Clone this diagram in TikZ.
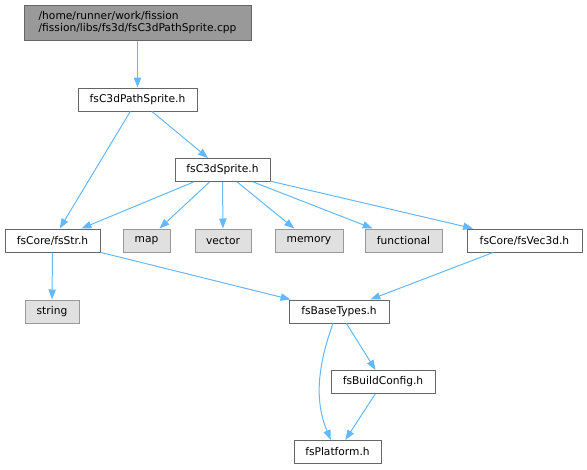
\documentclass[tikz,border=0pt]{standalone}
\usepackage{fontspec}
\setmainfont{DejaVu Sans}
\usetikzlibrary{arrows.meta, positioning}
\definecolor{edgeblue}{HTML}{63B8FF}
\definecolor{boxline}{HTML}{666666}
\definecolor{extline}{HTML}{999999}
\definecolor{extfill}{HTML}{E0E0E0}
\tikzset{
  filebox/.style={draw=boxline, fill=white, line width=0.75pt, minimum height=17.25pt, inner sep=1.5pt, font=\fontsize{8pt}{9.2pt}\selectfont},
  extbox/.style={filebox, draw=extline, fill=extfill},
  rootbox/.style={filebox, fill=extline, align=left},
  incl/.style={draw=edgeblue, line width=0.75pt, -{Triangle[length=7.5pt, width=5.5pt]}}
}
\begin{document}
\begin{tikzpicture}[x=0.75pt,y=0.75pt,yscale=-1,xscale=1]
			\useasboundingbox (0,0) rectangle (587,469);
			
			% Nodes
			\node [rootbox, minimum width=227*0.75pt, minimum height=35*0.75pt] (root) at (137.5,22.5) {/home/runner/work/fission\\/fission/libs/fs3d/fsC3dPathSprite.cpp};
			\node [filebox, minimum width=119*0.75pt] (pathsprite) at (137.5,99.5) {fsC3dPathSprite.h};
			\node [filebox, minimum width=95*0.75pt] (sprite) at (222.5,170) {fsC3dSprite.h};
			\node [filebox, minimum width=95*0.75pt] (fsstr) at (52.5,240.5) {fsCore/fsStr.h};
			\node [extbox, minimum width=47*0.75pt] (map) at (146.5,240.5) {map};
			\node [extbox, minimum width=56*0.75pt] (vector) at (223,240.5) {vector};
			\node [extbox, minimum width=68*0.75pt] (memory) at (309,240.5) {memory};
			\node [extbox, minimum width=77*0.75pt] (functional) at (403.5,240.5) {functional};
			\node [filebox, minimum width=115*0.75pt] (vec3d) at (524.5,240.5) {fsCore/fsVec3d.h};
			\node [extbox, minimum width=54*0.75pt] (string) at (52,311.5) {string};
			\node [filebox, minimum width=100*0.75pt] (basetypes) at (339,311.5) {fsBaseTypes.h};
			\node [filebox, minimum width=104*0.75pt] (buildcfg) at (383,382) {fsBuildConfig.h};
			\node [filebox, minimum width=87*0.75pt] (platform) at (337.5,452) {fsPlatform.h};
			
			% Includes
			\draw [incl] (root) -- (pathsprite);
			\draw [incl] (pathsprite) -- (fsstr);
			\draw [incl] (pathsprite) -- (sprite);
			\draw [incl] (sprite) -- (fsstr);
			\draw [incl] (sprite) -- (map);
			\draw [incl] (sprite) -- (vector);
			\draw [incl] (sprite) -- (memory);
			\draw [incl] (sprite) -- (functional);
			\draw [incl] (sprite) -- (vec3d);
			\draw [incl] (fsstr) -- (string);
			\draw [incl] (fsstr) -- (basetypes);
			\draw [incl] (vec3d) -- (basetypes);
			\draw [incl] ([xshift=-4.5pt]basetypes.south) .. controls (318,365) and (314,400) .. ([xshift=-5pt]platform.north);
			\draw [incl] (basetypes) -- (buildcfg);
			\draw [incl] (buildcfg) -- (platform);
			
\end{tikzpicture}
\end{document}
